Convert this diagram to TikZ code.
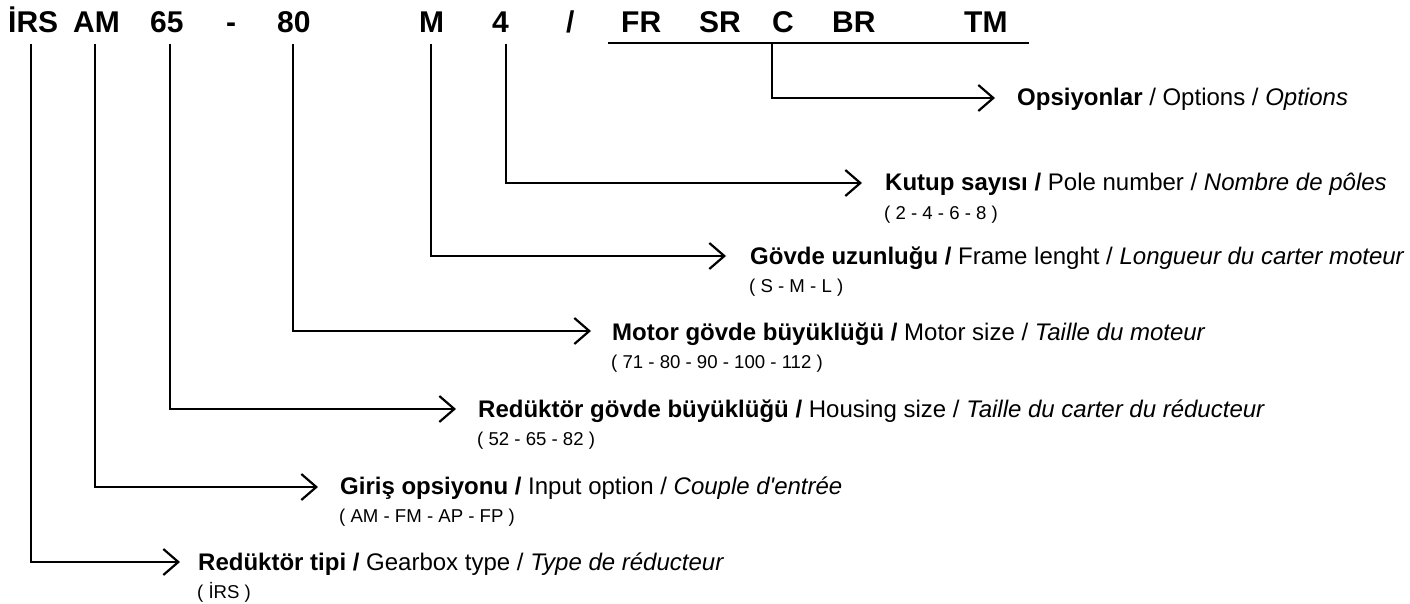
\documentclass[tikz,border=0pt]{standalone}
\usepackage{fontspec}
\setmainfont{Liberation Sans}
\usetikzlibrary{arrows.meta}
\begin{document}
\begin{tikzpicture}[x=1pt,y=-1pt,
  hdr/.style={anchor=base west,inner sep=0pt,font=\fontsize{30}{36}\selectfont\bfseries},
  lbl/.style={anchor=base west,inner sep=0pt,font=\fontsize{24}{29}\selectfont},
  sub/.style={anchor=base west,inner sep=0pt,font=\fontsize{18.6}{22}\selectfont},
  conn/.style={line width=2pt,-{Straight Barb[length=15pt,width=26pt,line width=2.2pt]}},
  uline/.style={line width=2.4pt}]
\useasboundingbox (0,0) rectangle (1410,604);
% header codes
\node[hdr] (h1) at (8,33) {İRS};
\node[hdr] (h2) at (73,33) {AM};
\node[hdr] (h3) at (150,33) {65};
\node[hdr] (h4) at (226,33) {-};
\node[hdr] (h5) at (277,33) {80};
\node[hdr] (h6) at (419,33) {M};
\node[hdr] (h7) at (492,33) {4};
\node[hdr] (h8) at (566,33) {/};
\node[hdr] (h9) at (621,33) {FR};
\node[hdr] (h10) at (699,33) {SR};
\node[hdr] (h11) at (772,33) {C};
\node[hdr] (h12) at (832,33) {BR};
\node[hdr] (h13) at (964,33) {TM};
\coordinate (u1) at (608,43);
\coordinate (u2) at (1029,43);
\draw[uline] (u1) -- (u2);
% vertical starts
\coordinate (v1) at (31,44);
\coordinate (v2) at (95,44);
\coordinate (v3) at (170,44);
\coordinate (v4) at (293,44);
\coordinate (v5) at (431,44);
\coordinate (v6) at (506,44);
\coordinate (v7) at (772,43);
% arrow tips
\coordinate (a7) at (995,98);
\coordinate (a6) at (862,183);
\coordinate (a5) at (726,256);
\coordinate (a4) at (591,331);
\coordinate (a3) at (456,409);
\coordinate (a2) at (318,487);
\coordinate (a1) at (180,562);
% labels
\node[lbl] (t7) at (1017,106) {\textbf{Opsiyonlar} / Options / \textit{Options}};
\node[lbl] (t6) at (885,191) {\textbf{Kutup sayısı /} Pole number / \textit{Nombre de pôles}};
\node[sub] (s6) at (884,219) {( 2 - 4 - 6 - 8 )};
\node[lbl] (t5) at (750,264) {\textbf{Gövde uzunluğu /} Frame lenght / \textit{Longueur du carter moteur}};
\node[sub] (s5) at (749,292) {( S - M - L )};
\node[lbl] (t4) at (612,340) {\textbf{Motor gövde büyüklüğü /} Motor size / \textit{Taille du moteur}};
\node[sub] (s4) at (611,368) {( 71 - 80 - 90 - 100 - 112 )};
\node[lbl] (t3) at (478,417) {\textbf{Redüktör gövde büyüklüğü /} Housing size / \textit{Taille du carter du réducteur}};
\node[sub] (s3) at (477,445) {( 52 - 65 - 82 )};
\node[lbl] (t2) at (340,494) {\textbf{Giriş opsiyonu /} Input option / \textit{Couple d\textquotesingle entrée}};
\node[sub] (s2) at (339,522) {( AM - FM - AP - FP )};
\node[lbl] (t1) at (198,570) {\textbf{Redüktör tipi /} Gearbox type / \textit{Type de réducteur}};
\node[sub] (s1) at (197,598) {( İRS )};
% connectors
\draw[conn] (v7) |- (a7);
\draw[conn] (v6) |- (a6);
\draw[conn] (v5) |- (a5);
\draw[conn] (v4) |- (a4);
\draw[conn] (v3) |- (a3);
\draw[conn] (v2) |- (a2);
\draw[conn] (v1) |- (a1);
\end{tikzpicture}
\end{document}
